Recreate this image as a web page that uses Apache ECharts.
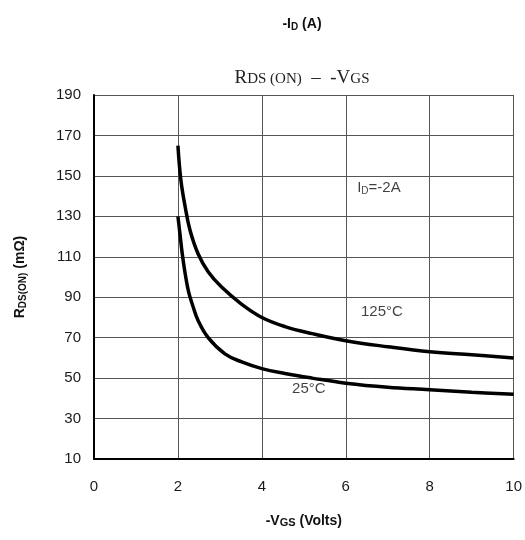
<!DOCTYPE html>
<html>
<head>
<meta charset="utf-8">
<script src="https://cdn.jsdelivr.net/npm/echarts@6/dist/echarts.min.js"></script>
<style>
  html, body { margin: 0; padding: 0; background: #fff; }
  #chart { width: 525px; height: 540px; }
</style>
</head>
<body>
<div id="chart"></div>
<script>
// RDS(ON) vs -VGS, ID = -2A
const vgs125 = [2.0, 2.07, 2.17, 2.29, 2.48, 2.72, 3.04, 3.52, 4.0, 4.55, 5.2, 6.0, 7.0, 8.0, 9.0, 10.0];
const rds125 = [165, 148, 135, 123, 111.5, 102.6, 95, 86.5, 80, 75.5, 72, 68.5, 65.5, 63, 61.5, 60];

const vgs25 = [2.0, 2.05, 2.1, 2.17, 2.25, 2.35, 2.48, 2.72, 3.12, 3.52, 4.0, 4.55, 5.2, 6.0, 7.0, 8.0, 9.0, 10.0];
const rds25 = [130, 121, 112, 102, 93, 86, 78.5, 70, 62, 58, 54.7, 52.3, 50, 47.5, 45.5, 44.3, 43, 42];

const xTicks = [0, 2, 4, 6, 8, 10];
const yTicks = [10, 30, 50, 70, 90, 110, 130, 150, 170, 190];

// annotation anchors in data space
const notes = [
    { x: 6.79, y: 144, text: 'I{sub|D}=-2A', box: true },
    { x: 6.86, y: 83, text: '125°C', box: false },
    { x: 5.12, y: 44.6, text: '25°C', box: false }
];

const chart = echarts.init(document.getElementById('chart'));
const sans = 'Liberation Sans, Arial, sans-serif';
const serif = 'Liberation Serif, serif';
const subStyle = { fontSize: 10, fontFamily: sans, color: '#111', padding: [6, 0, 0, 0] };

const option = {
    animation: false,
    title: [
        {
            text: '-I{sub|D} (A)',
            left: 297, top: 11, textAlign: 'center',
            textStyle: {
                fontSize: 14, fontWeight: 'bold', fontFamily: sans, color: '#111',
                rich: { sub: { fontSize: 10, fontWeight: 'bold', fontFamily: sans, color: '#111', padding: [6, 0, 0, 0] } }
            }
        },
        {
            text: '{big|R}{sm|DS (ON)}{big|  –  -V}{sm|GS}',
            left: 297, top: 64, textAlign: 'center',
            textStyle: {
                fontWeight: 'normal',
                rich: {
                    big: { fontSize: 19, fontWeight: 'normal', fontFamily: serif, color: '#222' },
                    sm: { fontSize: 15, fontWeight: 'normal', fontFamily: serif, color: '#222', padding: [2, 0, 0, 0] }
                }
            }
        }
    ],
    grid: { left: 94, right: 11, top: 95, bottom: 81 },
    xAxis: {
        type: 'value',
        min: 0, max: 10, interval: 2,
        name: '-V{sub|GS} (Volts)',
        nameLocation: 'middle',
        nameGap: 55,
        nameTextStyle: {
            fontSize: 14, fontWeight: 'bold', fontFamily: sans, color: '#111',
            rich: { sub: { fontSize: 11, fontWeight: 'bold', fontFamily: sans, color: '#111', padding: [3, 0, 0, 0] } }
        },
        axisLine: { show: true, onZero: false, lineStyle: { color: '#000', width: 2 } },
        axisTick: { show: false },
        axisLabel: {
            margin: 20, fontSize: 15, fontFamily: sans, color: '#1a1a1a',
            formatter: v => xTicks.includes(v) ? String(v) : ''
        },
        splitLine: { show: true, lineStyle: { color: '#555', width: 1 } }
    },
    yAxis: {
        type: 'value',
        min: 10, max: 190, interval: 20,
        name: 'R{sub|DS(ON)} (mΩ)',
        nameLocation: 'middle',
        nameGap: 66,
        nameTextStyle: {
            fontSize: 14, fontWeight: 'bold', fontFamily: sans, color: '#111',
            rich: { sub: { fontSize: 10, fontWeight: 'bold', fontFamily: sans, color: '#111', padding: [5, 0, 0, 0] } }
        },
        axisLine: { show: true, onZero: false, lineStyle: { color: '#000', width: 2 } },
        axisTick: { show: false },
        axisLabel: {
            margin: 13, fontSize: 15, fontFamily: sans, color: '#1a1a1a',
            formatter: v => yTicks.includes(v) ? String(v) : ''
        },
        splitLine: { show: true, lineStyle: { color: '#555', width: 1 } }
    },
    series: [
        {
            name: '125°C',
            type: 'line',
            data: vgs125.map((v, i) => [v, rds125[i]]),
            smooth: 0.4,
            symbol: 'none',
            lineStyle: { color: '#000', width: 3.5 },
            z: 3
        },
        {
            name: '25°C',
            type: 'line',
            data: vgs25.map((v, i) => [v, rds25[i]]),
            smooth: 0.4,
            symbol: 'none',
            lineStyle: { color: '#000', width: 3.5 },
            z: 3
        },
        {
            name: 'notes',
            type: 'scatter',
            symbolSize: 0,
            z: 5,
            data: notes.map(n => ({
                value: [n.x, n.y],
                label: {
                    show: true,
                    position: 'inside',
                    formatter: n.text,
                    fontSize: 15,
                    fontFamily: sans,
                    color: '#111',
                    backgroundColor: n.box ? '#fff' : 'transparent',
                    padding: n.box ? [3, 6] : 0,
                    rich: { sub: subStyle }
                }
            }))
        }
    ]
};

chart.setOption(option);
window.addEventListener('resize', () => chart.resize());
</script>
</body>
</html>
